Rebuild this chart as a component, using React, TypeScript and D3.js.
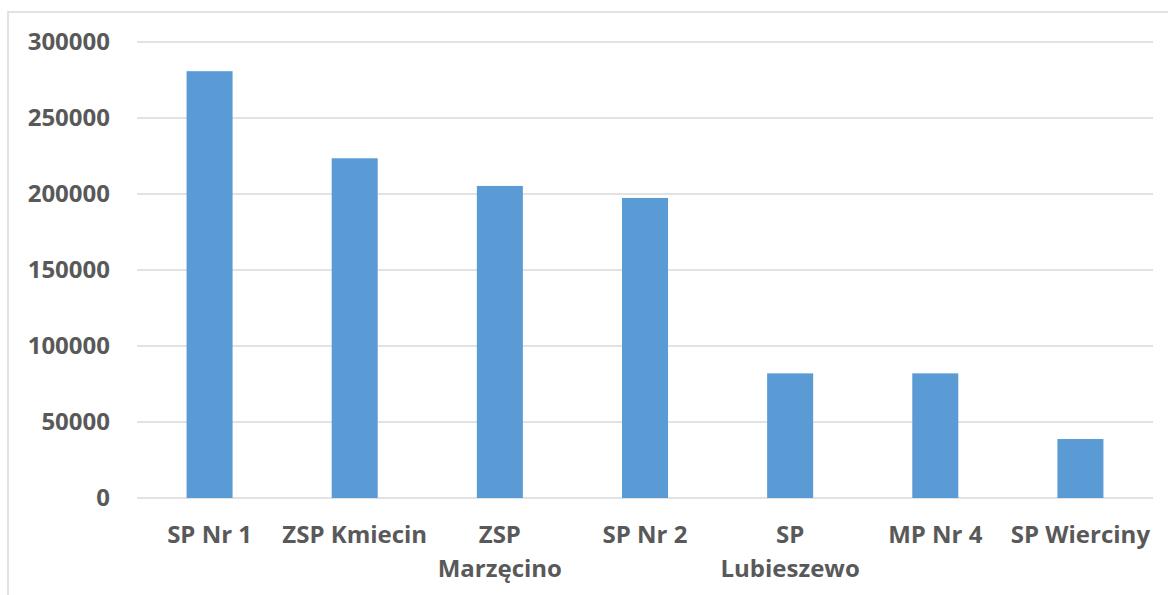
import React from "react";
import * as d3 from "d3";

const categories = [
  "SP Nr 1",
  "ZSP Kmiecin",
  "ZSP Marzęcino",
  "SP Nr 2",
  "SP Lubieszewo",
  "MP Nr 4",
  "SP Wierciny",
];
const labelLines = [
  ["SP Nr 1"],
  ["ZSP Kmiecin"],
  ["ZSP", "Marzęcino"],
  ["SP Nr 2"],
  ["SP", "Lubieszewo"],
  ["MP Nr 4"],
  ["SP Wierciny"],
];
const values = [280800, 223500, 205300, 197400, 82000, 82000, 38800];
const yTicks = [0, 50000, 100000, 150000, 200000, 250000, 300000];

const W = 1168;
const H = 595;
const left = 137;
const right = 1153;
const top = 42;
const bottom = 498;
const FONT = "'Open Sans', 'Liberation Sans', sans-serif";
const TEXT = "#595959";

export default function App() {
  const x = d3
    .scaleBand<string>()
    .domain(categories)
    .range([left, right])
    .paddingInner(0.683)
    .paddingOuter(0.3415);
  const y = d3.scaleLinear().domain([0, 300000]).range([bottom, top]);

  return (
    <svg
      width={W}
      height={H}
      style={{ position: "absolute", left: 0, top: 0, background: "#fff" }}
    >
      <rect
        x={8}
        y={12}
        width={1200}
        height={620}
        fill="none"
        stroke="#d9d9d9"
        strokeWidth={1.5}
      />
      {yTicks.map((t) => (
        <g key={t}>
          <line
            x1={left}
            x2={right}
            y1={y(t)}
            y2={y(t)}
            stroke="#d9d9d9"
            strokeWidth={1.3}
          />
          <text
            x={110}
            y={y(t)}
            dy="0.35em"
            textAnchor="end"
            fontFamily={FONT}
            fontWeight={700}
            fontSize={24}
            fill={TEXT}
          >
            {t}
          </text>
        </g>
      ))}
      {categories.map((c, i) => (
        <rect
          key={c}
          x={x(c)!}
          y={y(values[i])}
          width={x.bandwidth()}
          height={y(0) - y(values[i])}
          fill="#5b9bd5"
        />
      ))}
      {categories.map((c, i) => (
        <text
          key={c}
          textAnchor="middle"
          fontFamily={FONT}
          fontWeight={700}
          fontSize={24}
          fill={TEXT}
        >
          {labelLines[i].map((ln, j) => (
            <tspan key={j} x={x(c)! + x.bandwidth() / 2} y={542.5 + j * 34}>
              {ln}
            </tspan>
          ))}
        </text>
      ))}
    </svg>
  );
}
